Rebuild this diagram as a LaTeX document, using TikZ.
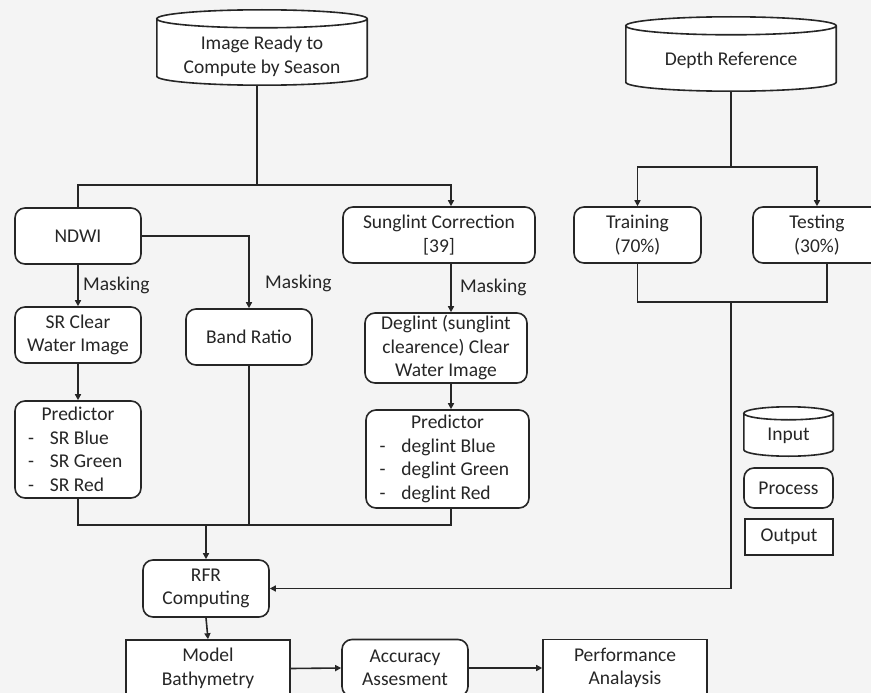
\documentclass[tikz,border=0pt]{standalone}
\usepackage{fontspec}
\setmainfont{Carlito}
\usepackage{tikz}
\usetikzlibrary{arrows.meta,positioning,calc}

\definecolor{bgcol}{HTML}{F4F4F4}
\definecolor{inkcol}{HTML}{262626}
\newcommand{\predline}[2]{\makebox[#1][l]{-\hspace{16pt}#2}}
% drum outline round a store node: #1 node, #2 ellipse y radius (pt)
\newcommand{\drum}[2]{%
  \draw[link, fill=white] let \p1=(#1.north west), \p2=(#1.south east), \n1={(\x2-\x1)/2} in
    (\x1,\y1+#2pt) -- (\x1,\y2+#2pt)
    arc[start angle=180, end angle=360, x radius=\n1, y radius=#2pt]
    -- (\x2,\y1+#2pt)
    arc[start angle=0, end angle=360, x radius=\n1, y radius=#2pt];}

\begin{document}
\begin{tikzpicture}[
  x=1pt, y=-1pt,
  font=\fontsize{19.5}{23.5}\selectfont,
  every node/.style={text=inkcol},
  proc/.style={draw=inkcol, line width=1.6pt, rounded corners=10pt, fill=white, align=center, inner sep=0pt},
  outbox/.style={draw=inkcol, line width=1.6pt, fill=white, align=center, inner sep=0pt},
  store/.style={align=center, inner sep=0pt},
  arr/.style={-{Triangle[length=6pt,width=6pt]}, line width=1.6pt, draw=inkcol},
  link/.style={line width=1.6pt, draw=inkcol},
  lbl/.style={anchor=west, inner sep=0pt}
]
\fill[bgcol] (0,0) rectangle (871,693);
\useasboundingbox (0,0) rectangle (871,693);

% inputs
\node[store, minimum width=210pt, minimum height=57pt] (img) at (262,56.5) {};
\drum{img}{9}
\node[store] (imgtxt) at (img) {Image Ready to\\Compute by Season};
\node[store, minimum width=210pt, minimum height=56pt] (dep) at (731,63) {};
\drum{dep}{9}
\node[store] (deptxt) at (731,60) {Depth Reference};

% processing
\node[proc, minimum width=126pt, minimum height=56pt] (ndwi) at (78,236) {NDWI};
\node[proc, minimum width=192pt, minimum height=56pt] (sung) at (439,235) {Sunglint Correction\\{[39]}};
\node[proc, minimum width=127pt, minimum height=56pt] (train) at (637.5,235) {Training\\(70\%)};
\node[proc, minimum width=128pt, minimum height=56pt] (test) at (817,235) {Testing\\(30\%)};
\node[proc, minimum width=126pt, minimum height=56pt] (srw) at (78,335) {SR Clear\\Water Image};
\node[proc, minimum width=126pt, minimum height=56pt] (band) at (249,337) {Band Ratio};
\node[proc, minimum width=162pt, minimum height=70pt] (dcw) at (446,348) {Deglint (sunglint\\clearence) Clear\\Water Image};
\node[proc, minimum width=126pt, minimum height=97pt] (psr) at (78,449.5) {Predictor\\\predline{100pt}{SR Blue}\\\predline{100pt}{SR Green}\\\predline{100pt}{SR Red}};
\node[proc, minimum width=163pt, minimum height=98pt] (pdg) at (447.5,459) {Predictor\\\predline{136pt}{deglint Blue}\\\predline{136pt}{deglint Green}\\\predline{136pt}{deglint Red}};
\node[proc, minimum width=126pt, minimum height=57pt] (rfr) at (206,588.5) {RFR\\Computing};

% outputs
\node[outbox, minimum width=164pt, minimum height=57pt] (model) at (208,668.5) {Model\\Bathymetry};
\node[proc, minimum width=126pt, minimum height=57pt] (acc) at (405,668) {Accuracy\\Assesment};
\node[outbox, minimum width=164pt, minimum height=57pt] (perf) at (625,668) {Performance\\Analaysis};

% legend
\node[store, minimum width=89pt, minimum height=36pt] (lin) at (788.5,438) {};
\drum{lin}{6.5}
\node[store] (lintxt) at (788.5,436) {Input};
\node[proc, minimum width=89pt, minimum height=40pt] (lproc) at (788.5,488) {Process};
\node[outbox, minimum width=88pt, minimum height=36pt] (lout) at (789,537) {Output};

% connectors
\coordinate (j1) at (257,185);
\coordinate (colS) at (451,0);
\coordinate (j2) at (206,525);
\coordinate (j3) at (731,167);
\coordinate (j4) at (731,302);
\coordinate (tcol) at (827,0);

\draw[link] (img.south -| j1) -- (j1);
\draw[link] (ndwi.north) |- (j1);
\draw[arr] (j1) -| (sung.north -| colS);
\draw[arr] (ndwi.south) -- (srw.north);
\draw[arr] (ndwi.east) -| (band.north);
\draw[arr] (sung.south -| colS) -- (dcw.north -| colS);
\draw[arr] (srw.south) -- (psr.north);
\draw[arr] (dcw.south -| colS) -- (pdg.north -| colS);
\draw[link] (psr.south) |- (colS |- j2) -- (pdg.south -| colS);
\draw[link] (band.south) -- (band.south |- j2);
\draw[arr] (j2) -- (rfr.north);
\draw[arr] (rfr.south) -- (model.north);
\draw[arr] (model.east) -- (acc.west);
\draw[arr] (acc.east) -- (perf.west);

\draw[link] (dep.south) -- (j3);
\draw[arr] (j3) -| (train.north);
\draw[arr] (j3) -| (test.north);
\draw[link] (train.south) |- (tcol |- j4) -- (test.south -| tcol);
\draw[arr] (j4) |- (rfr.east);

\node[lbl] (m1) at (83,285) {Masking};
\node[lbl] (m2) at (265,283) {Masking};
\node[lbl] (m3) at (460,287) {Masking};
\end{tikzpicture}
\end{document}
